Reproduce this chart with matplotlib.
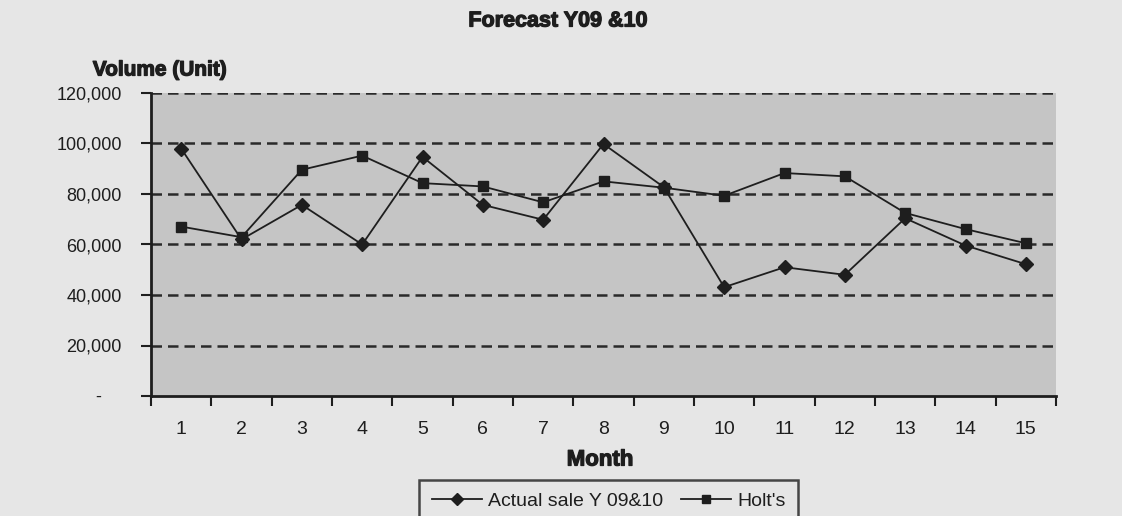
import matplotlib
matplotlib.use("Agg")
import matplotlib.pyplot as plt
import matplotlib.patheffects as pe
from matplotlib.ticker import FixedLocator, FuncFormatter, NullFormatter
from matplotlib.lines import Line2D

# Monthly volumes (units)
months = list(range(1, 16))
month_labels = [str(m) for m in months]
actual_sales = [98000, 62000, 75700, 60000, 94700, 75700, 69800, 99800,
                82700, 43100, 51000, 48000, 70400, 59600, 52200]
holts_forecast = [67100, 62900, 89600, 95200, 84300, 83000, 76700, 85000,
                  82500, 79300, 88300, 87000, 72500, 66100, 60500]
y_ticks = [0, 20000, 40000, 60000, 80000, 100000, 120000]

series_names = ["Actual sale Y 09&10", "Holt's"]
title_text = "Forecast Y09 &10"
y_title = "Volume (Unit)"
x_title = "Month"

plt.rcParams["font.family"] = ["Liberation Sans", "DejaVu Sans"]

page_color = "#e6e6e6"
plot_color = "#c5c5c5"
ink = "#1e1e1e"
heavy = [pe.withStroke(linewidth=0.9, foreground=ink)]

fig = plt.figure(figsize=(11.22, 5.16), dpi=100, facecolor=page_color)
ax = fig.add_axes([151 / 1122, 1 - 396 / 516, (1056 - 151) / 1122, (396 - 93) / 516])
ax.set_facecolor(plot_color)

ax.plot(months, actual_sales, color=ink, lw=1.3, marker="D", ms=7.5,
        mfc=ink, mec=ink, zorder=4)
ax.plot(months, holts_forecast, color=ink, lw=1.3, marker="s", ms=7,
        mfc=ink, mec=ink, zorder=4)

ax.set_xlim(0.5, 15.5)
ax.set_ylim(0, 120000)

# value axis
ax.yaxis.set_major_locator(FixedLocator(y_ticks))
ax.yaxis.set_major_formatter(FuncFormatter(lambda v, p: "-    " if v == 0 else f"{int(v):,}"))
ax.tick_params(axis="y", direction="out", length=7, width=1.5, color=ink,
               labelsize=13, labelcolor=ink, pad=14)
for yv in y_ticks[1:]:
    ax.axhline(yv, color="#2a2a2a", lw=1.8, ls=(0, (4.2, 2.4)), zorder=2)

# category axis: labels centred, ticks between categories
ax.xaxis.set_major_locator(FixedLocator(months))
ax.set_xticklabels(month_labels)
ax.xaxis.set_minor_locator(FixedLocator([m + 0.5 for m in range(0, 16)]))
ax.xaxis.set_minor_formatter(NullFormatter())
ax.tick_params(axis="x", which="major", length=0, labelsize=14, labelcolor=ink, pad=18)
ax.tick_params(axis="x", which="minor", direction="out", length=7, width=1.5, color=ink)

for side in ("top", "right"):
    ax.spines[side].set_visible(False)
for side in ("left", "bottom"):
    ax.spines[side].set_color(ink)
    ax.spines[side].set_linewidth(2)
    ax.spines[side].set_zorder(5)

fig.text(558 / 1122, 1 - 21 / 516, title_text, ha="center", va="center",
         fontsize=15.5, fontweight="bold", color=ink, path_effects=heavy)
fig.text(160 / 1122, 1 - 70 / 516, y_title, ha="center", va="center",
         fontsize=15, fontweight="bold", color=ink, path_effects=heavy)
fig.text(600 / 1122, 1 - 460 / 516, x_title, ha="center", va="center",
         fontsize=16, fontweight="bold", color=ink, path_effects=heavy)

handles = [
    Line2D([], [], color=ink, lw=1.3, marker="D", ms=6.5, mfc=ink, mec=ink),
    Line2D([], [], color=ink, lw=1.3, marker="s", ms=6, mfc=ink, mec=ink),
]
leg = fig.legend(handles, series_names, loc="upper left",
                 bbox_to_anchor=(419 / 1122, 1 - 480 / 516), ncol=2,
                 fontsize=14, frameon=True, fancybox=False, shadow=False,
                 borderpad=0.65, handlelength=2.6, handletextpad=0.3,
                 columnspacing=0.9, borderaxespad=0)
leg.get_frame().set_edgecolor(ink)
leg.get_frame().set_linewidth(1.8)
leg.get_frame().set_facecolor(page_color)
for t in leg.get_texts():
    t.set_color(ink)

fig.savefig("out.png", dpi=100, facecolor=page_color)
